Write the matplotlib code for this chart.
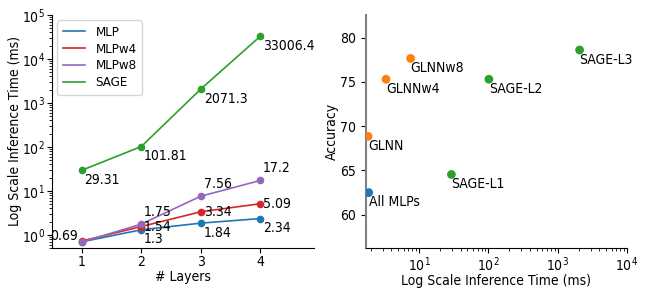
import numpy as np
import matplotlib
matplotlib.use("Agg")
import matplotlib.pyplot as plt

# left panel: inference time vs number of layers
layers = [1, 2, 3, 4]
mlp = [0.69, 1.3, 1.84, 2.34]
mlpw4 = [0.72, 1.54, 3.34, 5.09]
mlpw8 = [0.68, 1.75, 7.56, 17.2]
sage = [29.31, 101.81, 2071.3, 33006.4]

# right panel: accuracy vs inference time
pt_names = ["All MLPs", "GLNN", "GLNNw4", "GLNNw8", "SAGE-L1", "SAGE-L2", "SAGE-L3"]
pt_time = [1.88, 1.84, 3.34, 7.56, 29.31, 101.81, 2071.3]
pt_acc = [62.5, 68.85, 75.3, 77.65, 64.55, 75.3, 78.6]
pt_color = ["tab:blue", "tab:orange", "tab:orange", "tab:orange",
            "tab:green", "tab:green", "tab:green"]

plt.rcParams["font.family"] = "DejaVu Sans"
plt.rcParams["font.stretch"] = "condensed"

fig = plt.figure(figsize=(6.47, 2.94), dpi=100)
ax1 = fig.add_axes([52/647, 46/294, 262/647, 233/294])
ax2 = fig.add_axes([365.7/647, 46/294, 261.3/647, 233/294])

ms = 4.5
series = [(mlp, "tab:blue", "MLP"), (mlpw4, "tab:red", "MLPw4"),
          (mlpw8, "tab:purple", "MLPw8"), (sage, "tab:green", "SAGE")]
for vals, col, lab in series:
    ax1.plot(layers, vals, "-", color=col, lw=1.2, label=lab)
    ax1.plot(layers, vals, "o", color=col, ms=ms)
ax1.set_yscale("log")
ax1.set_xlim(0.5, 4.9)
ax1.set_ylim(0.5, 1e5)
ax1.set_xticks(layers)
ax1.set_xlabel("# Layers", fontsize=10, labelpad=0.5)
ax1.set_ylabel("Log Scale Inference Time (ms)", fontsize=10)
ax1.yaxis.set_label_coords(-30/262, 0.5)

# value labels
ax1.annotate("0.69", (1, mlp[0]), xytext=(-3, 4), textcoords="offset points",
             ha="right", va="center", fontsize=10)
for i in range(1, 4):
    ax1.annotate(str(mlp[i]), (layers[i], mlp[i]), xytext=(2, -7),
                 textcoords="offset points", ha="left", va="center", fontsize=10)
    ax1.annotate(str(mlpw4[i]), (layers[i], mlpw4[i]), xytext=(2, 0),
                 textcoords="offset points", ha="left", va="center", fontsize=10)
    ax1.annotate(str(mlpw8[i]), (layers[i], mlpw8[i]), xytext=(2, 9),
                 textcoords="offset points", ha="left", va="center", fontsize=10)
for i in range(4):
    ax1.annotate(str(sage[i]), (layers[i], sage[i]), xytext=(2, -7),
                 textcoords="offset points", ha="left", va="center", fontsize=10)

ax1.legend(loc="upper left", fontsize=9.5, handlelength=1.7, labelspacing=0.3,
           borderaxespad=0.4)
ax1.spines["top"].set_visible(False)
ax1.spines["right"].set_visible(False)
ax1.tick_params(labelsize=10, pad=1.5)

ax2.scatter(pt_time, pt_acc, c=pt_color, s=28, zorder=3)
for name, t, a in zip(pt_names, pt_time, pt_acc):
    ax2.annotate(name, (t, a), xytext=(0, -7), textcoords="offset points",
                 ha="left", va="center", fontsize=10)
ax2.set_xscale("log")
ax2.set_xlim(1.7, 1e4)
ax2.set_ylim(56.25, 82.55)
ax2.set_yticks([60, 65, 70, 75, 80])
ax2.set_xlabel("Log Scale Inference Time (ms)", fontsize=10, labelpad=0.5)
ax2.set_ylabel("Accuracy", fontsize=10)
ax2.yaxis.set_label_coords(-27/261.3, 0.5)
ax2.spines["top"].set_visible(False)
ax2.spines["right"].set_visible(False)
ax2.spines["left"].set_color("gray")
ax2.spines["left"].set_linewidth(1.5)
ax2.tick_params(labelsize=10)
ax2.tick_params(axis="x", pad=1.5)

fig.savefig("out.png", dpi=100)
